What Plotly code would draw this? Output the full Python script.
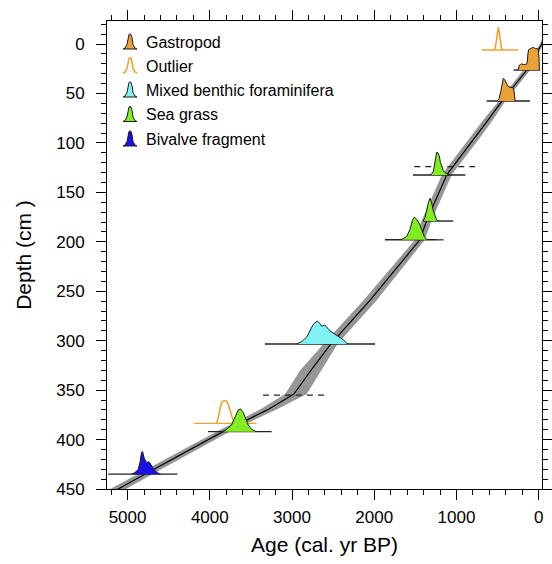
import plotly.graph_objects as go

# ---------------- data ----------------
# Age-depth model (central line and uncertainty envelope)
model_depth = [-5, 0, 26, 58, 77, 97, 132, 178, 198, 259, 303, 330, 354, 370, 392, 435, 450, 460]
model_age = [-60, -36, 142, 450, 617, 800, 1116, 1360, 1445, 2050, 2525, 2770, 2977, 3300, 3840, 4790, 5117, 5330]
band_young = [-80, -56, 100, 410, 560, 735, 1056, 1300, 1385, 1970, 2445, 2640, 2820, 3200, 3760, 4700, 5017, 5230]
band_old = [-40, -16, 182, 490, 677, 865, 1176, 1420, 1505, 2130, 2615, 2900, 3084, 3400, 3920, 4880, 5217, 5430]

# Calibrated dates: sample depth, baseline extent, density shape (age, relative height)
dates = {
    "Gastropod A": dict(kind="Gastropod", depth=26.3, line=[305, -16],
        age=[250, 245, 235, 220, 205, 190, 175, 160, 148, 140, 130, 122, 110, 95, 80, 66, 50, 35, 20, 5, -5, -8],
        dens=[0, 0.18, 0.22, 0.24, 0.28, 0.24, 0.23, 0.25, 0.26, 0.35, 0.75, 0.9, 0.92, 0.95, 0.98, 1.0, 0.96, 0.93, 0.95, 0.9, 0.5, 0]),
    "Gastropod B": dict(kind="Gastropod", depth=57.6, line=[633, 106],
        age=[504, 483, 459, 440, 431, 416, 398, 373, 349, 325, 307, 294, 288],
        dens=[0, 0.1, 0.45, 0.85, 1.0, 0.95, 0.8, 0.65, 0.6, 0.6, 0.55, 0.3, 0]),
    "Outlier A": dict(kind="Outlier", depth=6.0, line=[693, 248],
        age=[545, 530, 515, 503, 491, 480, 468, 455, 440],
        dens=[0, 0.08, 0.4, 0.85, 1.0, 0.8, 0.4, 0.1, 0]),
    "Sea grass A": dict(kind="Sea grass", depth=132.5, line=[1529, 892],
        age=[1322, 1302, 1282, 1265, 1255, 1241, 1225, 1210, 1195, 1175, 1160, 1130, 1079],
        dens=[0, 0.05, 0.15, 0.5, 0.85, 1.0, 0.97, 0.85, 0.55, 0.35, 0.2, 0.07, 0]),
    "Sea grass B": dict(kind="Sea grass", depth=179.0, line=[1404, 1039],
        age=[1404, 1383, 1363, 1343, 1322, 1302, 1282, 1261, 1241, 1221],
        dens=[0, 0.15, 0.45, 0.8, 1.0, 0.8, 0.45, 0.2, 0.05, 0]),
    "Sea grass C": dict(kind="Sea grass", depth=198.0, line=[1870, 1230],
        age=[1687, 1647, 1606, 1566, 1537, 1513, 1484, 1456, 1423, 1392, 1363, 1343],
        dens=[0, 0.05, 0.15, 0.45, 0.85, 1.0, 0.9, 0.75, 0.45, 0.15, 0.02, 0]),
    "Foraminifera": dict(kind="Mixed benthic foraminifera", depth=303.3, line=[3330, 1990],
        age=[2944, 2883, 2822, 2782, 2742, 2721, 2693, 2661, 2640, 2600, 2539, 2457, 2377, 2336, 2316],
        dens=[0.0, 0.1, 0.3, 0.58, 0.86, 0.93, 1.0, 0.9, 0.78, 0.83, 0.58, 0.375, 0.19, 0.03, 0]),
    "Outlier B": dict(kind="Outlier", depth=383.6, line=[4190, 3430],
        age=[3917, 3898, 3877, 3857, 3825, 3796, 3776, 3756, 3735, 3715, 3695, 3674],
        dens=[0, 0.23, 0.62, 0.92, 1.0, 0.97, 0.85, 0.62, 0.31, 0.12, 0.03, 0]),
    "Sea grass D": dict(kind="Sea grass", depth=392.0, line=[4020, 3248],
        age=[3837, 3796, 3735, 3695, 3654, 3625, 3593, 3561, 3533, 3492, 3431],
        dens=[0, 0.1, 0.3, 0.65, 0.95, 1.0, 0.85, 0.55, 0.3, 0.1, 0]),
    "Bivalve": dict(kind="Bivalve fragment", depth=435.0, line=[5236, 4396],
        age=[4951, 4911, 4871, 4850, 4830, 4818, 4797, 4769, 4749, 4729, 4696, 4668, 4627, 4599],
        dens=[0, 0.07, 0.2, 0.5, 0.95, 1.0, 0.7, 0.5, 0.55, 0.5, 0.3, 0.15, 0.04, 0]),
}

# Dashed reference lines (depth, age extent)
dashed_depth = [124.0, 198.0, 355.0]
dashed_from = [1513, 1230, 3354]
dashed_to = [773, 1100, 2575]

legend_labels = ["Gastropod", "Outlier", "Mixed benthic foraminifera", "Sea grass", "Bivalve fragment"]
fill_colors = {"Gastropod": "#E8A236", "Outlier": None, "Mixed benthic foraminifera": "#80F4F4",
               "Sea grass": "#80EE22", "Bivalve fragment": "#1C10E8"}
outlier_color = "#F0A230"

x_ticks = [0, 1000, 2000, 3000, 4000, 5000]
y_ticks = [0, 50, 100, 150, 200, 250, 300, 350, 400, 450]

PEAK = 23.0  # density peak height in depth units
FONT = "Liberation Sans, Arial, sans-serif"

# ---------------- figure ----------------
fig = go.Figure()

# uncertainty envelope
fig.add_trace(go.Scatter(x=band_young + band_old[::-1], y=model_depth + model_depth[::-1],
                         fill="toself", fillcolor="rgb(150,150,150)", line=dict(width=0),
                         mode="lines", hoverinfo="skip", showlegend=False))
# central line
fig.add_trace(go.Scatter(x=model_age, y=model_depth, mode="lines",
                         line=dict(color="black", width=1.2), showlegend=False))

# dashed reference lines
for d, a0, a1 in zip(dashed_depth, dashed_from, dashed_to):
    fig.add_trace(go.Scatter(x=[a0, a1], y=[d, d], mode="lines",
                             line=dict(color="#222", width=1.2, dash="6px,5px"), showlegend=False))

# baselines and densities
for name, d in dates.items():
    col = fill_colors[d["kind"]]
    base_col = outlier_color if d["kind"] == "Outlier" else "#222"
    fig.add_trace(go.Scatter(x=d["line"], y=[d["depth"], d["depth"]], mode="lines",
                             line=dict(color=base_col, width=1.4), showlegend=False))
    ys = [d["depth"] - h * PEAK for h in d["dens"]]
    if col is None:
        fig.add_trace(go.Scatter(x=d["age"], y=ys, mode="lines",
                                 line=dict(color=outlier_color, width=1.6), showlegend=False))
    else:
        fig.add_trace(go.Scatter(x=d["age"], y=ys, mode="lines", fill="toself", fillcolor=col,
                                 line=dict(color="#1a1a1a", width=1), showlegend=False))

# legend (drawn on an overlay axis measured in pixels)
leg_dx = [-7, -5, -3, -2, -1, 0, 1, 2, 3, 5, 7]
leg_dh = [0, 0.06, 0.3, 0.75, 0.97, 1.0, 0.97, 0.75, 0.3, 0.06, 0]
leg_rows = [42, 66, 90, 114.5, 139]
for lab, ry in zip(legend_labels, leg_rows):
    xs = [130 + dx for dx in leg_dx]
    ys = [ry + 7 - h * 15 for h in leg_dh]
    if fill_colors[lab] is None:
        fig.add_trace(go.Scatter(x=xs, y=ys, mode="lines", xaxis="x3", yaxis="y3",
                                 line=dict(color=outlier_color, width=1.6), showlegend=False))
    else:
        fig.add_trace(go.Scatter(x=xs + [xs[0]], y=ys + [ys[0]], mode="lines", fill="toself",
                                 fillcolor=fill_colors[lab], xaxis="x3", yaxis="y3",
                                 line=dict(color="#1a1a1a", width=1), showlegend=False))
    fig.add_annotation(x=146, y=ry, xref="x3", yref="y3", text=lab, showarrow=False,
                       xanchor="left", yanchor="middle", xshift=-2,
                       font=dict(family=FONT, size=16, color="black"))

axis_font = dict(family=FONT, size=17, color="black")
title_font = dict(family=FONT, size=21, color="black")
fig.update_layout(
    width=552, height=564,
    margin=dict(l=107, r=10, t=21, b=75, autoexpand=False),
    paper_bgcolor="white", plot_bgcolor="white",
    showlegend=False,
    xaxis=dict(range=[5250, -40], tickvals=x_ticks, ticks="outside", ticklen=10, tickwidth=1,
               tickcolor="black", showline=True, linecolor="black", linewidth=1, mirror="allticks",
               showgrid=False, zeroline=False, tickfont=axis_font, ticklabelstandoff=3,
               automargin=False,
               minor=dict(dtick=200, ticks="outside", ticklen=5, tickcolor="black", showgrid=False),
               title=dict(text="Age (cal. yr BP)", font=title_font, standoff=10)),
    yaxis=dict(range=[450, -23.3], tickvals=y_ticks, ticks="outside", ticklen=10, tickwidth=1,
               tickcolor="black", showline=True, linecolor="black", linewidth=1, mirror="allticks",
               showgrid=False, zeroline=False, tickfont=axis_font, ticklabelstandoff=8,
               automargin=False,
               minor=dict(dtick=10, ticks="outside", ticklen=5, tickcolor="black", showgrid=False),
               title=dict(text="Depth (cm )", font=title_font, standoff=18)),
    xaxis3=dict(range=[107, 542], overlaying="x", visible=False, fixedrange=True),
    yaxis3=dict(range=[489, 21], overlaying="y", visible=False, fixedrange=True),
)

fig.write_html("out.html")
